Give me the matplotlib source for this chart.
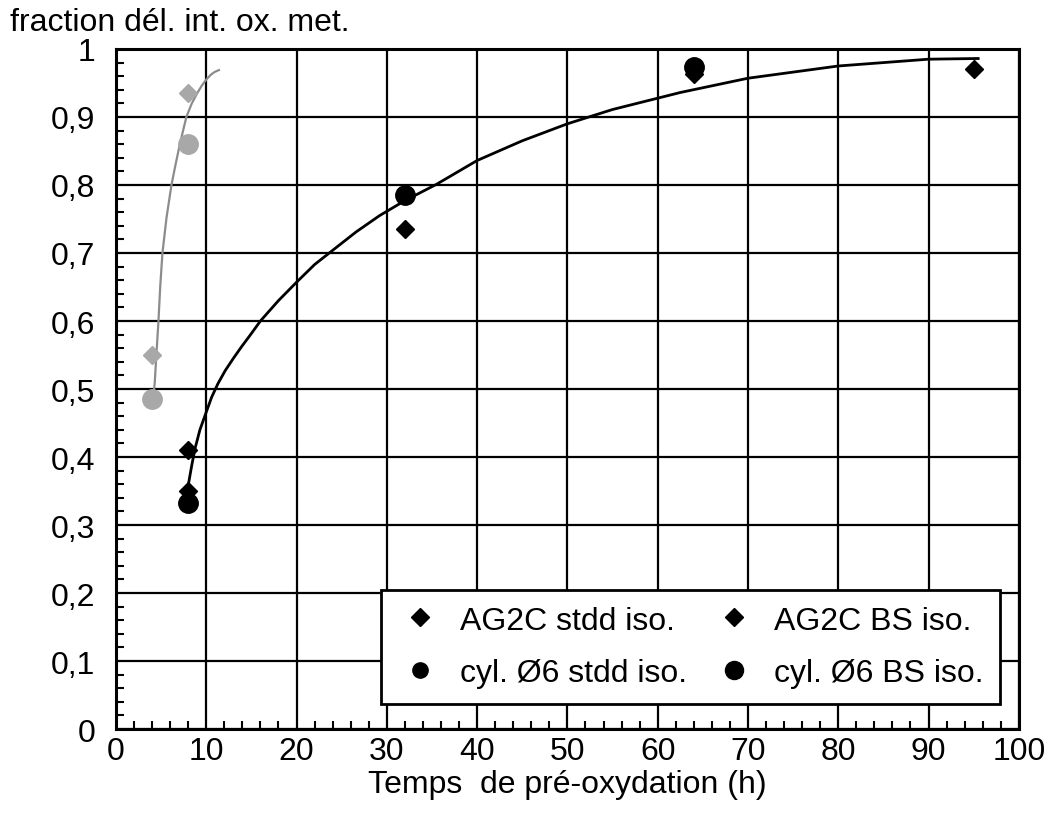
import numpy as np
import matplotlib.pyplot as plt
from matplotlib.lines import Line2D
from matplotlib.ticker import MultipleLocator

plt.rcParams['font.family'] = ['Liberation Sans', 'DejaVu Sans']

# data
ag2c_stdd_x = [4, 8]
ag2c_stdd_y = [0.55, 0.935]
cyl_stdd_x = [4, 8]
cyl_stdd_y = [0.485, 0.86]
ag2c_bs_x = [8, 8, 32, 64, 95]
ag2c_bs_y = [0.41, 0.35, 0.735, 0.963, 0.97]
cyl_bs_x = [8, 32, 64]
cyl_bs_y = [0.333, 0.786, 0.973]

# trend curves
fit_gray_x = [4.15, 4.3, 4.5, 4.7, 4.9, 5.15, 5.6, 6.15, 6.6, 7.0, 7.4, 7.8, 8.4, 9.0,
              9.5, 10.0, 10.5, 10.9, 11.4]
fit_gray_y = [0.49, 0.51, 0.555, 0.598, 0.65, 0.70, 0.752, 0.80, 0.83, 0.855, 0.878, 0.90,
              0.92, 0.935, 0.946, 0.955, 0.962, 0.966, 0.969]
fit_black_x = [8.0, 8.4, 8.75, 9.3, 10.0, 10.6, 11.3, 12.1, 13.0, 13.9, 14.8, 16.0, 17.0,
               18.0, 20.0, 22.0, 24.2, 26.6, 29.2, 32.0, 35.5, 40.0, 45.0, 50.0, 55.0,
               62.5, 70.0, 80.0, 90.0, 95.5]
fit_black_y = [0.358, 0.388, 0.412, 0.44, 0.466, 0.488, 0.508, 0.527, 0.545, 0.562, 0.578,
               0.600, 0.615, 0.630, 0.657, 0.683, 0.706, 0.731, 0.755, 0.777, 0.801, 0.836,
               0.865, 0.890, 0.911, 0.936, 0.957, 0.975, 0.985, 0.986]

x_ticks = np.arange(0, 101, 10)
y_ticks = np.round(np.arange(0, 1.01, 0.1), 1)
y_labels = ['0', '0,1', '0,2', '0,3', '0,4', '0,5', '0,6', '0,7', '0,8', '0,9', '1']

gray = '#a8a8a8'
fs = 23

fig = plt.figure(figsize=(10.56, 8.29), dpi=100)
ax = fig.add_axes([0.1098, 0.1194, 0.855, 0.8203])

ax.plot(fit_gray_x, fit_gray_y, color='#8c8c8c', lw=1.6, zorder=3)
ax.plot(fit_black_x, fit_black_y, color='black', lw=2.0, zorder=3)

ax.plot(ag2c_stdd_x, ag2c_stdd_y, 'D', color=gray, ms=9.5, ls='none', zorder=4)
ax.plot(cyl_stdd_x, cyl_stdd_y, 'o', color=gray, ms=14, ls='none', zorder=4)
ax.plot(ag2c_bs_x, ag2c_bs_y, 'D', color='black', ms=9.5, ls='none', zorder=4)
ax.plot(cyl_bs_x, cyl_bs_y, 'o', color='black', ms=14, ls='none', zorder=4)

ax.set_xlim(0, 100)
ax.set_ylim(0, 1)
ax.set_xticks(x_ticks)
ax.set_yticks(y_ticks)
ax.set_yticklabels(y_labels)
ax.xaxis.set_minor_locator(MultipleLocator(2))
ax.yaxis.set_minor_locator(MultipleLocator(0.02))
ax.tick_params(which='major', length=0, labelsize=fs)
ax.tick_params(axis='x', which='major', pad=5)
ax.tick_params(axis='y', which='major', pad=15)
ax.tick_params(which='minor', direction='in', length=6, width=1.5, color='black')
ax.grid(True, which='major', color='black', lw=1.6)
ax.set_axisbelow(True)
for s in ax.spines.values():
    s.set_linewidth(2.2)

ax.set_xlabel('Temps  de pré-oxydation (h)', fontsize=fs, labelpad=2)
fig.text(0.009, 0.972, 'fraction dél. int. ox. met.', fontsize=fs, ha='left', va='center')

handles = [
    Line2D([], [], marker='D', color='black', ls='none', ms=9.5),
    Line2D([], [], marker='o', color='black', ls='none', ms=11),
    Line2D([], [], marker='D', color='black', ls='none', ms=9.5),
    Line2D([], [], marker='o', color='black', ls='none', ms=13),
]
labels = ['AG2C stdd iso.', 'cyl. Ø6 stdd iso.', 'AG2C BS iso.', 'cyl. Ø6 BS iso.']
leg = ax.legend(handles, labels, ncol=2, fontsize=fs, loc='lower right',
                bbox_to_anchor=(0.979, 0.037), fancybox=False, framealpha=1,
                edgecolor='black', borderpad=0.5, labelspacing=0.7, columnspacing=0.8,
                handletextpad=0.55, handlelength=1.4, borderaxespad=0)
leg.get_frame().set_linewidth(2.0)
leg.set_zorder(5)

fig.savefig('out.png', dpi=100)
